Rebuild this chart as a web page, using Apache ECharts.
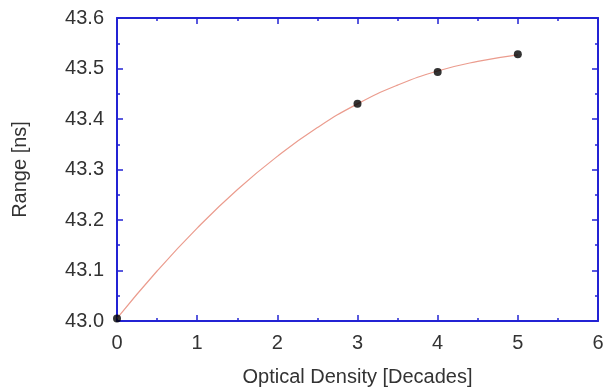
<!DOCTYPE html>
<html style="height: 100%">
<head>
    <meta charset="utf-8">
    <title>Range vs Optical Density</title>
</head>
<body style="height: 100%; margin: 0; background: #fff">
    <div id="main" style="width: 609px; height: 392px"></div>
    <script src="https://cdn.jsdelivr.net/npm/echarts@6/dist/echarts.min.js"></script>
    <script type="text/javascript">
        // measured points
        var odX = [0, 3, 4, 5];
        var rangeY = [43.005, 43.43, 43.493, 43.528];
        // fit curve
        var fitX = [0, 0.5, 1, 1.5, 2, 2.5, 3, 3.5, 4, 4.5, 5];
        var fitY = [43.005, 43.099, 43.184, 43.26, 43.326, 43.383, 43.43, 43.467, 43.495, 43.514, 43.527];

        var blue = '#2323d4';
        var font = 'Liberation Sans, Arial, sans-serif';

        var pts = odX.map(function (x, i) { return [x, rangeY[i]]; });
        var fit = fitX.map(function (x, i) { return [x, fitY[i]]; });

        function xAx(pos, labels) {
            return {
                type: 'value', position: pos, min: 0, max: 6, interval: 1,
                name: labels ? 'Optical Density [Decades]' : '',
                nameLocation: 'middle', nameGap: 46,
                nameTextStyle: { fontFamily: font, fontSize: 20, color: '#333' },
                axisLine: { show: true, onZero: false, lineStyle: { color: blue, width: 2 } },
                axisTick: { show: true, inside: true, length: 6, lineStyle: { color: blue, width: 1.5 } },
                minorTick: { show: true, splitNumber: 2, length: 3, lineStyle: { color: blue, width: 1.5 } },
                axisLabel: { show: labels, fontFamily: font, fontSize: 20, color: '#333', margin: 12 },
                splitLine: { show: false }
            };
        }
        function yAx(pos, labels) {
            return {
                type: 'value', position: pos, min: 43.0, max: 43.6, interval: 0.1,
                name: labels ? 'Range [ns]' : '',
                nameLocation: 'middle', nameGap: 87,
                nameTextStyle: { fontFamily: font, fontSize: 20, color: '#333' },
                axisLine: { show: true, onZero: false, lineStyle: { color: blue, width: 2 } },
                axisTick: { show: true, inside: true, length: 6, lineStyle: { color: blue, width: 1.5 } },
                minorTick: { show: true, splitNumber: 2, length: 3, lineStyle: { color: blue, width: 1.5 } },
                axisLabel: {
                    show: labels, fontFamily: font, fontSize: 20, color: '#333', margin: 13,
                    formatter: function (v) { return v.toFixed(1); }
                },
                splitLine: { show: false }
            };
        }

        var chart = echarts.init(document.getElementById('main'));
        chart.setOption({
            animation: false,
            grid: { left: 117, right: 11, top: 18, bottom: 68 },
            xAxis: [xAx('bottom', true), xAx('top', false)],
            yAxis: [yAx('left', true), yAx('right', false)],
            series: [
                {
                    type: 'line', data: fit, smooth: true, showSymbol: false,
                    lineStyle: { color: '#eb9c8e', width: 1.2 }, z: 2
                },
                {
                    type: 'scatter', data: pts, symbolSize: 8,
                    itemStyle: { color: '#000' }, z: 3
                }
            ]
        });
    </script>
</body>
</html>
